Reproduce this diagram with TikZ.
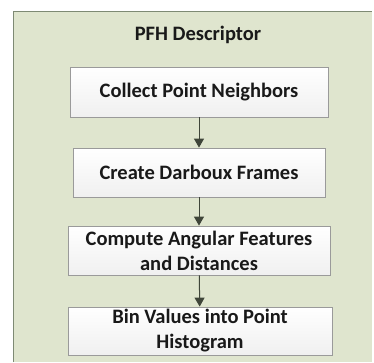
\documentclass[tikz,border=0pt]{standalone}
\usepackage{fontspec}
\setmainfont{Carlito}
\usetikzlibrary{arrows.meta,shadows}
\definecolor{panelfill}{HTML}{DFE5CE}
\definecolor{panelline}{HTML}{7E8A74}
\definecolor{boxline}{HTML}{9A9A9A}
\definecolor{arrowcol}{HTML}{3F4539}
\tikzset{
  stepbox/.style={draw=boxline, line width=0.8pt, top color=white, bottom color=gray!12,
    align=center, font=\bfseries\fontsize{20.5}{25}\selectfont, inner sep=0pt,
    text=black!90,
    drop shadow={shadow xshift=1pt, shadow yshift=-1pt, opacity=0.25}},
  flow/.style={draw=arrowcol, line width=1pt, -{Triangle[length=9pt,width=10pt]}}
}
\begin{document}
\begin{tikzpicture}[x=1pt,y=-1pt]
\useasboundingbox (0,0) rectangle (374,362);
\fill[white] (0,0) rectangle (374,362);
% panel
\fill[panelfill] (13,11) rectangle (372,362);
\draw[panelline, line width=1.2pt] (13.5,362) -- (13.5,11.5) -- (372,11.5);
\node[font=\bfseries\fontsize{20.5}{24}\selectfont, text=black!90] (title) at (198,35) {PFH Descriptor};
% steps
\node[stepbox, minimum width=258pt, minimum height=50pt] (s1) at (199,92) {Collect Point Neighbors};
\node[stepbox, minimum width=252pt, minimum height=49pt] (s2) at (199,172.5) {Create Darboux Frames};
\node[stepbox, minimum width=262pt, minimum height=49pt] (s3) at (199,250.5) {Compute Angular Features\\and Distances};
\node[stepbox, minimum width=264pt, minimum height=48pt] (s4) at (200,331) {Bin Values into Point\\Histogram};
\draw[flow] (s1) -- (s2);
\draw[flow] (s2) -- (s3);
\draw[flow] (s3) -- (s4);
\end{tikzpicture}
\end{document}
